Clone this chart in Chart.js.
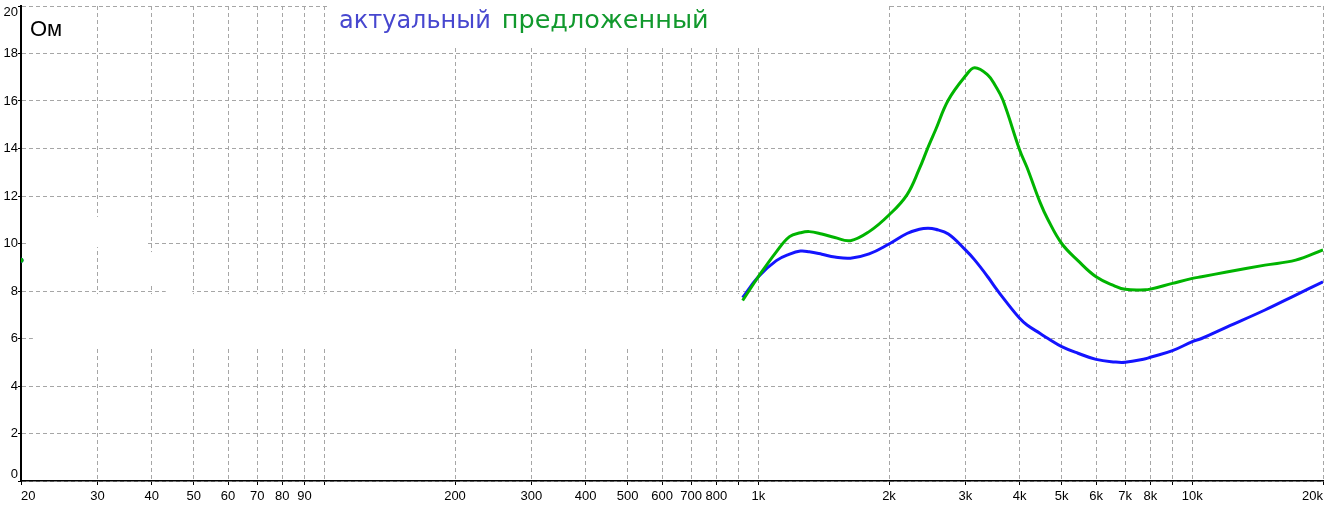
<!DOCTYPE html>
<html>
<head>
<meta charset="utf-8">
<script src="https://cdn.jsdelivr.net/npm/chart.js@4.4.0/dist/chart.umd.min.js"></script>
<style>
  body { margin: 0; background: #fff; }
  canvas { display: block; }
</style>
</head>
<body>
<canvas id="impChart" width="1328" height="507"></canvas>
<script>
// frequencies (Hz) of the visible part of the curves
const freqs = [920, 1000, 1100, 1180, 1250, 1310, 1400, 1500, 1630, 1800, 2000, 2200, 2350, 2460, 2560,
  2740, 3000, 3150, 3380, 3520, 3660, 4000, 4160, 4460, 4650, 5000, 5450, 6000, 6630, 7000, 7800, 8000,
  9000, 10000, 10500, 12000, 14700, 17300, 20000];
// impedance, Ohm
const actualOhm = [7.72, 8.6, 9.28, 9.55, 9.68, 9.65, 9.55, 9.43, 9.38, 9.56, 9.98, 10.42, 10.6, 10.64, 10.6,
  10.4, 9.73, 9.31, 8.59, 8.13, 7.72, 6.85, 6.57, 6.21, 6.0, 5.66, 5.38, 5.12, 5.01, 5.0, 5.15, 5.21,
  5.49, 5.87, 6.0, 6.48, 7.2, 7.83, 8.39];
const proposedOhm = [7.6, 8.6, 9.65, 10.29, 10.45, 10.5, 10.4, 10.25, 10.12, 10.5, 11.2, 12.05, 13.15, 14.05, 14.78,
  16.04, 17.05, 17.4, 17.09, 16.63, 16.04, 13.94, 13.2, 11.72, 11.0, 10.0, 9.28, 8.6, 8.21, 8.07, 8.05, 8.08,
  8.32, 8.53, 8.6, 8.8, 9.09, 9.3, 9.73];
// lone point left at the low end
const startFreq = 20;
const startOhm = 9.3;

const xTickValues = [20, 30, 40, 50, 60, 70, 80, 90, 100, 200, 300, 400, 500, 600, 700, 800, 900,
  1000, 2000, 3000, 4000, 5000, 6000, 7000, 8000, 9000, 10000, 20000];
const xTickLabels = ['20', '30', '40', '50', '60', '70', '80', '90', '', '200', '300', '400', '500', '600', '700', '800', '',
  '1k', '2k', '3k', '4k', '5k', '6k', '7k', '8k', '', '10k', '20k'];

const titleParts = [['актуальный', '#4747cf'], ['предложенный', '#11992d']];
const unitLabel = 'Ом';

// white patches over the grid, in axis units [f0, f1, ohm0, ohm1]
const patches = [
  [21.3, 909, 5.64, 7.87],
  [20.6, 38.7, 9.85, 11.12],
  [38.7, 43.1, 8.21, 9.64],
  [43.1, 49.6, 7.87, 9.64],
  [102.8, 1995, 18.23, 21]
];

function series(vals) {
  let pts = [{x: startFreq, y: startOhm}, {x: 25, y: null}];
  freqs.forEach((f, i) => pts.push({x: f, y: vals[i]}));
  return pts;
}

const patchPlugin = {
  id: 'patches',
  beforeDatasetsDraw(chart) {
    const {ctx, scales: {x, y}} = chart;
    ctx.save();
    ctx.fillStyle = '#fff';
    patches.forEach(p => {
      const x0 = x.getPixelForValue(p[0]), x1 = x.getPixelForValue(p[1]);
      const y0 = y.getPixelForValue(p[3]), y1 = y.getPixelForValue(p[2]);
      ctx.fillRect(x0, y0, x1 - x0, y1 - y0);
    });
    ctx.restore();
  }
};

const textPlugin = {
  id: 'texts',
  afterDraw(chart) {
    const ctx = chart.ctx;
    ctx.save();
    ctx.textBaseline = 'alphabetic';
    ctx.font = '24px "DejaVu Sans"';
    ctx.fillStyle = titleParts[0][1];
    ctx.fillText(titleParts[0][0], 339, 28);
    let tx = 339 + ctx.measureText(titleParts[0][0]).width + 11;
    ctx.font = '25.5px "DejaVu Sans"';
    ctx.fillStyle = titleParts[1][1];
    ctx.fillText(titleParts[1][0], tx, 28);
    ctx.fillStyle = '#000';
    ctx.font = '22px "Liberation Sans"';
    ctx.fillText(unitLabel, 30, 36);
    ctx.restore();
  }
};

const tickFont = {family: '"Liberation Sans"', size: 13, lineHeight: 1};

const lineStyle = {
  borderWidth: 3, tension: 0.4,
  pointRadius: c => c.dataIndex === 0 ? 2.5 : 0, pointBorderWidth: 0
};

new Chart(document.getElementById('impChart'), {
  type: 'line',
  data: {
    datasets: [
      Object.assign({label: 'предложенный', data: series(proposedOhm), borderColor: '#00b400', backgroundColor: '#00b400'}, lineStyle),
      Object.assign({label: 'актуальный', data: series(actualOhm), borderColor: '#1414ff', backgroundColor: '#1414ff'}, lineStyle)
    ]
  },
  options: {
    responsive: false,
    animation: false,
    layout: {padding: {top: 6, right: 5, left: 0, bottom: 0}},
    plugins: {legend: {display: false}, title: {display: false}, tooltip: {enabled: false}},
    scales: {
      x: {
        type: 'logarithmic',
        min: 20, max: 20000,
        afterBuildTicks: s => { s.ticks = xTickValues.map(v => ({value: v})); },
        afterFit: s => { s.height = 26; s.paddingLeft = 0; s.paddingRight = 0; },
        ticks: {
          autoSkip: false, maxRotation: 0, align: 'inner', padding: 5,
          color: '#000', font: tickFont,
          callback: (v, i) => xTickLabels[i]
        },
        grid: {color: '#a6a6a6', lineWidth: 1, tickLength: 4, tickColor: '#000', tickBorderDash: []},
        border: {display: true, color: '#000', width: 1.5, dash: [4, 3]}
      },
      y: {
        min: 0, max: 20,
        afterFit: s => { s.width = 21; s.paddingTop = 0; s.paddingBottom = 0; },
        ticks: {
          stepSize: 2, padding: 0, color: '#000', font: tickFont,
          // keep the end labels inside the plot height
          callback: v => v === 20 ? ['', '20'] : v === 0 ? ['0', ''] : String(v)
        },
        grid: {color: '#a6a6a6', lineWidth: 1, tickLength: 3, tickColor: '#000', tickBorderDash: []},
        border: {display: true, color: '#000', width: 2, dash: [4, 3]}
      }
    }
  },
  plugins: [patchPlugin, textPlugin]
});
</script>
</body>
</html>
